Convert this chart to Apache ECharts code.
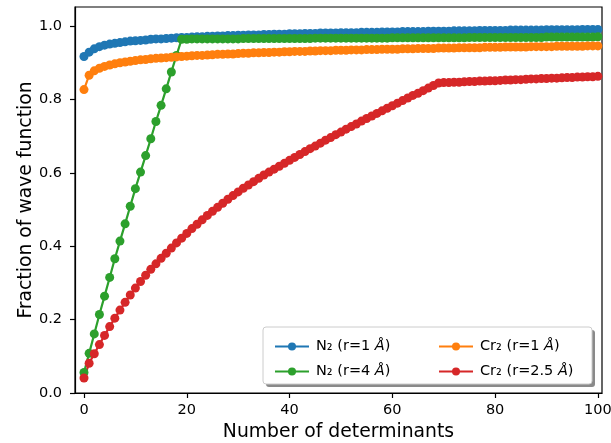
<!DOCTYPE html>
<html><head><meta charset="utf-8">
<script src="https://cdn.jsdelivr.net/npm/echarts@6/dist/echarts.min.js"></script>
<style>html,body{margin:0;padding:0;background:#fff}#c{width:611px;height:443px}</style>
</head><body><div id="c"></div>
<script>
const determinants = Array.from({length:101},(_, i)=>i);
const seriesNames = ['N₂ (r=1 Å)','N₂ (r=4 Å)','Cr₂ (r=1 Å)','Cr₂ (r=2.5 Å)'];
const n2r1 = [0.917,0.929,0.938,0.944,0.948,0.951,0.953,0.955,0.957,0.959,0.960,
 0.961,0.962,0.964,0.965,0.965,0.966,0.967,0.968,0.969,0.969,
 0.970,0.971,0.971,0.972,0.972,0.973,0.973,0.974,0.974,0.975,
 0.975,0.976,0.976,0.976,0.977,0.977,0.978,0.978,0.978,0.979,
 0.979,0.979,0.980,0.980,0.980,0.981,0.981,0.981,0.981,0.982,
 0.982,0.982,0.982,0.983,0.983,0.983,0.983,0.984,0.984,0.984,
 0.984,0.985,0.985,0.985,0.985,0.985,0.986,0.986,0.986,0.986,
 0.986,0.987,0.987,0.987,0.987,0.987,0.988,0.988,0.988,0.988,
 0.988,0.988,0.989,0.989,0.989,0.989,0.989,0.989,0.989,0.990,
 0.990,0.990,0.990,0.990,0.990,0.990,0.991,0.991,0.991,0.991];
const n2r4 = [0.056,0.108,0.161,0.214,0.264,0.315,0.366,0.414,0.461,0.509,0.557,
 0.602,0.647,0.693,0.740,0.784,0.829,0.875,0.920,0.964,0.964,
 0.965,0.965,0.965,0.965,0.965,0.965,0.965,0.965,0.965,0.965,
 0.966,0.966,0.966,0.966,0.966,0.966,0.966,0.966,0.966,0.966,
 0.966,0.966,0.966,0.966,0.967,0.967,0.967,0.967,0.967,0.967,
 0.967,0.967,0.967,0.967,0.967,0.967,0.967,0.967,0.967,0.968,
 0.968,0.968,0.968,0.968,0.968,0.968,0.968,0.968,0.968,0.968,
 0.968,0.968,0.968,0.968,0.969,0.969,0.969,0.969,0.969,0.969,
 0.969,0.969,0.969,0.969,0.969,0.969,0.969,0.969,0.969,0.970,
 0.970,0.970,0.970,0.970,0.970,0.970,0.970,0.970,0.970,0.971];
const cr2r1 = [0.827,0.866,0.878,0.885,0.890,0.894,0.897,0.900,0.902,0.904,0.906,
 0.908,0.909,0.911,0.912,0.913,0.914,0.915,0.916,0.917,0.918,
 0.919,0.920,0.920,0.921,0.922,0.923,0.923,0.924,0.924,0.925,
 0.926,0.926,0.927,0.927,0.928,0.928,0.929,0.929,0.930,0.930,
 0.931,0.931,0.931,0.932,0.932,0.933,0.933,0.933,0.934,0.934,
 0.934,0.935,0.935,0.935,0.936,0.936,0.936,0.937,0.937,0.937,
 0.937,0.938,0.938,0.938,0.939,0.939,0.939,0.939,0.940,0.940,
 0.940,0.940,0.941,0.941,0.941,0.941,0.941,0.942,0.942,0.942,
 0.942,0.943,0.943,0.943,0.943,0.943,0.944,0.944,0.944,0.944,
 0.944,0.945,0.945,0.945,0.945,0.945,0.945,0.946,0.946,0.946];
const cr2r25 = [0.041,0.081,0.107,0.132,0.157,0.181,0.204,0.226,0.247,0.267,0.286,
 0.304,0.321,0.337,0.352,0.367,0.381,0.395,0.409,0.422,0.435,
 0.448,0.460,0.472,0.484,0.495,0.506,0.517,0.528,0.538,0.548,
 0.558,0.567,0.576,0.585,0.594,0.602,0.610,0.618,0.626,0.634,
 0.642,0.650,0.658,0.666,0.673,0.681,0.689,0.696,0.704,0.711,
 0.719,0.726,0.733,0.741,0.748,0.755,0.762,0.769,0.776,0.783,
 0.790,0.797,0.804,0.811,0.817,0.824,0.831,0.838,0.845,0.846,
 0.846,0.847,0.847,0.848,0.849,0.849,0.850,0.850,0.851,0.851,
 0.852,0.853,0.853,0.854,0.854,0.855,0.856,0.856,0.857,0.857,
 0.858,0.858,0.859,0.860,0.860,0.861,0.861,0.862,0.862,0.863];
const xTicks = [0,20,40,60,80,100];
const yTicks = [0,0.2,0.4,0.6,0.8,1.0];
const colors = ['#1f77b4','#2ca02c','#ff7f0e','#d62728'];
const allValues = [n2r1, n2r4, cr2r1, cr2r25];

const FONT = 'DejaVu Sans';
const chart = echarts.init(document.getElementById('c'), null, {renderer:'canvas'});
const legendText = {fontFamily:FONT, fontSize:14.5, color:'#000', padding:[0,0,0,2],
  rich:{i:{fontFamily:FONT, fontSize:14.5, fontStyle:'italic', color:'#000'}}};
const fmt = name => name.replace('Å','{i|Å}');
chart.setOption({
  animation:false,
  textStyle:{fontFamily:FONT},
  grid:{left:75, right:9, top:7, bottom:50, show:true, borderColor:'#000', borderWidth:1.2,
    outerBoundsMode:'none', containLabel:false},
  xAxis:{type:'value', min:-1.75, max:100.8,
    name:'Number of determinants', nameLocation:'middle', nameGap:30, nameMoveOverlap:false,
    nameTextStyle:{fontFamily:FONT, fontSize:18.8, color:'#000'},
    axisLine:{show:true, onZero:false, lineStyle:{color:'#000', width:1.2}},
    axisTick:{show:true, length:5, lineStyle:{color:'#000', width:1.2}, customValues:xTicks},
    axisLabel:{fontFamily:FONT, fontSize:14.5, color:'#000', margin:10, customValues:xTicks},
    splitLine:{show:false}},
  yAxis:{type:'value', min:0, max:1.052,
    name:'Fraction of wave function', nameLocation:'middle', nameGap:39, nameRotate:90, nameMoveOverlap:false,
    nameTextStyle:{fontFamily:FONT, fontSize:18.8, color:'#000'},
    axisLine:{show:true, onZero:false, lineStyle:{color:'#000', width:1.2}},
    axisTick:{show:true, length:5, lineStyle:{color:'#000', width:1.2}, customValues:yTicks},
    axisLabel:{fontFamily:FONT, fontSize:14.5, color:'#000', margin:13, customValues:yTicks,
      formatter:v=>v.toFixed(1)},
    splitLine:{show:false}},
  graphic:[
    {type:'rect', shape:{x:266, y:330, width:329, height:57, r:3}, style:{fill:'#8a8a8a'}, z:3},
    {type:'rect', shape:{x:263, y:327, width:329, height:57, r:3}, style:{fill:'#fff', stroke:'#cccccc', lineWidth:1}, z:3}
  ],
  legend:[
    {orient:'vertical', left:269, top:334, itemWidth:34, itemHeight:10, itemGap:10,
     lineStyle:{width:2}, data:[seriesNames[0], seriesNames[1]], textStyle:legendText, formatter:fmt, z:5},
    {orient:'vertical', left:433, top:334, itemWidth:34, itemHeight:10, itemGap:10,
     lineStyle:{width:2}, data:[seriesNames[2], seriesNames[3]], textStyle:legendText, formatter:fmt, z:5}
  ],
  series: allValues.map((vals, k) => ({
    type:'line', name:seriesNames[k],
    data: determinants.map((x,i)=>[x, vals[i]]),
    symbol:'circle', symbolSize:9, showSymbol:true, showAllSymbol:true,
    lineStyle:{color:colors[k], width:2.2}, itemStyle:{color:colors[k]},
    color:colors[k], clip:true
  }))
});
</script></body></html>
